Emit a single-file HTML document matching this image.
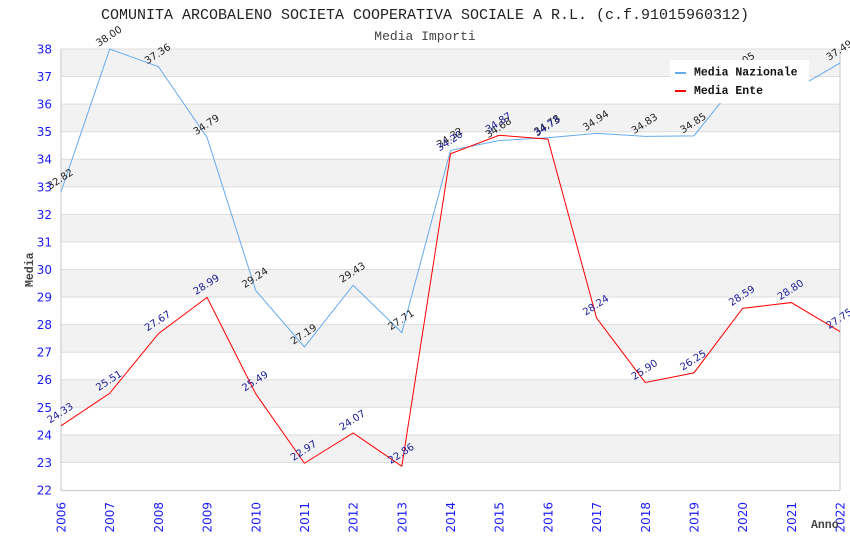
<!DOCTYPE html>
<html><head><meta charset="utf-8"><style>
html,body{margin:0;padding:0;background:#fff;}
svg{display:block;}
</style></head><body>
<svg width="850" height="550" viewBox="0 0 850 550" xmlns="http://www.w3.org/2000/svg">
<rect width="850" height="550" fill="#fff"/>
<!-- bands -->
<g fill="#f2f2f2">
<rect x="61" y="49" width="779" height="27.56"/>
<rect x="61" y="104.13" width="779" height="27.56"/>
<rect x="61" y="159.25" width="779" height="27.56"/>
<rect x="61" y="214.38" width="779" height="27.56"/>
<rect x="61" y="269.5" width="779" height="27.56"/>
<rect x="61" y="324.63" width="779" height="27.56"/>
<rect x="61" y="379.75" width="779" height="27.56"/>
<rect x="61" y="434.88" width="779" height="27.56"/>
</g>
<g stroke="#dddddd" stroke-width="1">
<line x1="61" x2="840" y1="49" y2="49"/>
<line x1="61" x2="840" y1="76.56" y2="76.56"/>
<line x1="61" x2="840" y1="104.13" y2="104.13"/>
<line x1="61" x2="840" y1="131.69" y2="131.69"/>
<line x1="61" x2="840" y1="159.25" y2="159.25"/>
<line x1="61" x2="840" y1="186.81" y2="186.81"/>
<line x1="61" x2="840" y1="214.38" y2="214.38"/>
<line x1="61" x2="840" y1="241.94" y2="241.94"/>
<line x1="61" x2="840" y1="269.5" y2="269.5"/>
<line x1="61" x2="840" y1="297.06" y2="297.06"/>
<line x1="61" x2="840" y1="324.63" y2="324.63"/>
<line x1="61" x2="840" y1="352.19" y2="352.19"/>
<line x1="61" x2="840" y1="379.75" y2="379.75"/>
<line x1="61" x2="840" y1="407.31" y2="407.31"/>
<line x1="61" x2="840" y1="434.88" y2="434.88"/>
<line x1="61" x2="840" y1="462.44" y2="462.44"/>
</g>
<g stroke="#d0d0d0" stroke-width="1.2" fill="none">
<line x1="61" x2="61" y1="49" y2="490.5"/>
<line x1="840" x2="840" y1="49" y2="490.5"/>
<line x1="61" x2="840" y1="490.5" y2="490.5"/>
</g>
<!-- titles -->
<text x="425" y="19" text-anchor="middle" font-family="Liberation Mono, monospace" font-size="15" fill="#222">COMUNITA ARCOBALENO SOCIETA COOPERATIVA SOCIALE A R.L. (c.f.91015960312)</text>
<text x="425" y="40" text-anchor="middle" font-family="Liberation Mono, monospace" font-size="13" fill="#444">Media Importi</text>
<!-- y ticks -->
<g font-family="DejaVu Sans, sans-serif" font-size="12" fill="#1a1aff" text-anchor="end">
<text x="52" y="53.5">38</text>
<text x="52" y="81">37</text>
<text x="52" y="108.6">36</text>
<text x="52" y="136.2">35</text>
<text x="52" y="163.7">34</text>
<text x="52" y="191.3">33</text>
<text x="52" y="218.9">32</text>
<text x="52" y="246.4">31</text>
<text x="52" y="274">30</text>
<text x="52" y="301.6">29</text>
<text x="52" y="329.1">28</text>
<text x="52" y="356.7">27</text>
<text x="52" y="384.2">26</text>
<text x="52" y="411.8">25</text>
<text x="52" y="439.4">24</text>
<text x="52" y="466.9">23</text>
<text x="52" y="494.5">22</text>
</g>
<!-- x ticks -->
<g font-family="DejaVu Sans, sans-serif" font-size="12" fill="#1a1aff" text-anchor="end">
<text transform="translate(65.5,502) rotate(-90)">2006</text>
<text transform="translate(114.2,502) rotate(-90)">2007</text>
<text transform="translate(162.9,502) rotate(-90)">2008</text>
<text transform="translate(211.6,502) rotate(-90)">2009</text>
<text transform="translate(260.3,502) rotate(-90)">2010</text>
<text transform="translate(308.9,502) rotate(-90)">2011</text>
<text transform="translate(357.6,502) rotate(-90)">2012</text>
<text transform="translate(406.3,502) rotate(-90)">2013</text>
<text transform="translate(455,502) rotate(-90)">2014</text>
<text transform="translate(503.7,502) rotate(-90)">2015</text>
<text transform="translate(552.4,502) rotate(-90)">2016</text>
<text transform="translate(601.1,502) rotate(-90)">2017</text>
<text transform="translate(649.8,502) rotate(-90)">2018</text>
<text transform="translate(698.4,502) rotate(-90)">2019</text>
<text transform="translate(747.1,502) rotate(-90)">2020</text>
<text transform="translate(795.8,502) rotate(-90)">2021</text>
<text transform="translate(844.5,502) rotate(-90)">2022</text>
</g>
<text x="811" y="528" font-family="Liberation Mono, monospace" font-weight="bold" font-size="11.5" fill="#444">Anno</text>
<text transform="translate(33,287) rotate(-90)" font-family="Liberation Mono, monospace" font-weight="bold" font-size="11.5" fill="#444">Media</text>
<!-- Nazionale -->
<polyline fill="none" stroke="#66aaee" stroke-width="1" points="61,191.77 109.69,49 158.38,66.64 207.06,137.48 255.75,290.45 304.44,346.95 353.13,285.21 401.81,332.62 450.5,150.43 499.19,140.51 547.88,137.75 596.56,133.34 645.25,136.37 693.94,135.82 742.63,75.18 791.31,91.45 840,63.06"/>
<g font-family="DejaVu Sans, sans-serif" font-size="10" fill="#222" text-anchor="middle">
<text transform="translate(62,181.8) rotate(-33)">32.82</text>
<text transform="translate(110.7,39) rotate(-33)">38.00</text>
<text transform="translate(159.4,56.6) rotate(-33)">37.36</text>
<text transform="translate(208.1,127.5) rotate(-33)">34.79</text>
<text transform="translate(256.8,280.5) rotate(-33)">29.24</text>
<text transform="translate(305.4,337) rotate(-33)">27.19</text>
<text transform="translate(354.1,275.2) rotate(-33)">29.43</text>
<text transform="translate(402.8,322.6) rotate(-33)">27.71</text>
<text transform="translate(451.5,140.4) rotate(-33)">34.32</text>
<text transform="translate(500.2,130.5) rotate(-33)">34.68</text>
<text transform="translate(548.9,127.8) rotate(-33)">34.78</text>
<text transform="translate(597.6,123.3) rotate(-33)">34.94</text>
<text transform="translate(646.3,126.4) rotate(-33)">34.83</text>
<text transform="translate(694.9,125.8) rotate(-33)">34.85</text>
<text transform="translate(743.6,65.2) rotate(-33)">37.05</text>
<text transform="translate(792.3,81.5) rotate(-33)">36.46</text>
<text transform="translate(841,53.1) rotate(-33)">37.49</text>
</g>
<!-- Ente -->
<polyline fill="none" stroke="#ff0000" stroke-width="1" points="61,425.78 109.69,393.26 158.38,333.72 207.06,297.34 255.75,393.81 304.44,463.26 353.13,432.95 401.81,466.3 450.5,153.74 499.19,135.27 547.88,139.13 596.56,318.01 645.25,382.51 693.94,372.86 742.63,308.36 791.31,302.57 840,331.52"/>
<g font-family="DejaVu Sans, sans-serif" font-size="10" fill="#1a1a99" text-anchor="middle">
<text transform="translate(62,415.8) rotate(-33)">24.33</text>
<text transform="translate(110.7,383.3) rotate(-33)">25.51</text>
<text transform="translate(159.4,323.7) rotate(-33)">27.67</text>
<text transform="translate(208.1,287.3) rotate(-33)">28.99</text>
<text transform="translate(256.8,383.8) rotate(-33)">25.49</text>
<text transform="translate(305.4,453.3) rotate(-33)">22.97</text>
<text transform="translate(354.1,423) rotate(-33)">24.07</text>
<text transform="translate(402.8,456.3) rotate(-33)">22.86</text>
<text transform="translate(451.5,143.7) rotate(-33)">34.20</text>
<text transform="translate(500.2,125.3) rotate(-33)">34.87</text>
<text transform="translate(548.9,129.1) rotate(-33)">34.73</text>
<text transform="translate(597.6,308) rotate(-33)">28.24</text>
<text transform="translate(646.3,372.5) rotate(-33)">25.90</text>
<text transform="translate(694.9,362.9) rotate(-33)">26.25</text>
<text transform="translate(743.6,298.4) rotate(-33)">28.59</text>
<text transform="translate(792.3,292.6) rotate(-33)">28.80</text>
<text transform="translate(841,321.5) rotate(-33)">27.75</text>
</g>
<!-- legend -->
<rect x="670" y="60" width="139" height="43" fill="#fff"/>
<rect x="675" y="72" width="11" height="2" fill="#66aaee"/>
<rect x="675" y="90" width="11" height="2" fill="#ff0000"/>
<g font-family="Liberation Mono, monospace" font-weight="bold" font-size="11.5" fill="#111">
<text x="694" y="75.5">Media Nazionale</text>
<text x="694" y="94">Media Ente</text>
</g>
</svg>
</body></html>
